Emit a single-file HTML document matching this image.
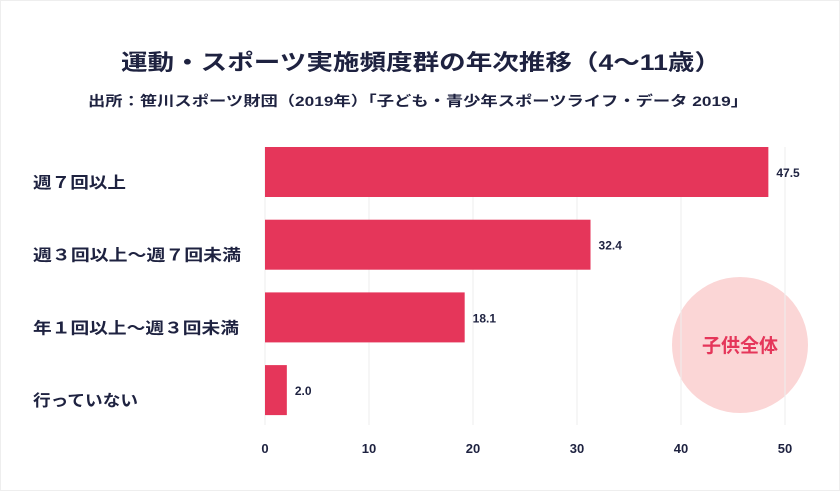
<!DOCTYPE html>
<html><head><meta charset="utf-8"><style>
html,body{margin:0;padding:0;background:#fff}
svg{display:block}
text{font-family:"Liberation Sans","Noto Sans CJK JP",sans-serif;font-weight:bold;fill:#1e2240}
</style></head><body>
<svg id="chart" width="840" height="491" viewBox="0 0 840 491">
<rect x="0.5" y="0.5" width="839" height="490" fill="#fff" stroke="#eeeeee"/>
<text x="421" y="70" font-size="22" text-anchor="middle" textLength="600" lengthAdjust="spacingAndGlyphs">運動・スポーツ実施頻度群の年次推移（4～11歳）</text>
<text x="88" y="106" font-size="14" textLength="660" lengthAdjust="spacingAndGlyphs">出所：笹川スポーツ財団（2019年）「子ども・青少年スポーツライフ・データ 2019」</text>
<circle cx="740" cy="345" r="68" fill="#fbd6d6"/>
<text x="740" y="352" font-size="19" text-anchor="middle" style="fill:#e5365a">子供全体</text>
<g id="grid"></g><g id="bars"></g><g id="labels"></g>
</svg>
<script>
const categories = ["週７回以上","週３回以上～週７回未満","年１回以上～週３回未満","行っていない"];
const values = [48.4, 31.3, 19.2, 2.1];
const valueLabels = ["47.5","32.4","18.1","2.0"];
const ticks = [0,10,20,30,40,50];
const labelWidths = [93, 208, 206, 105];
const ns="http://www.w3.org/2000/svg";
const x0=265, x1=785, xMax=50;
const xs=v=>x0+(x1-x0)*v/xMax;
const yTop=147, pitch=72.7, bh=50;
const ys=i=>yTop+i*pitch;
function mk(t,a){const e=document.createElementNS(ns,t);for(const k in a)e.setAttribute(k,a[k]);return e;}
const grid=document.getElementById('grid'),bars=document.getElementById('bars'),labels=document.getElementById('labels');
ticks.forEach(t=>{
  const l=mk('line',{x1:xs(t),x2:xs(t),y1:147,y2:425,stroke:'#eeeeee','stroke-width':1});
  
  
  grid.appendChild(l);
  const tx=mk('text',{x:xs(t),y:453,'font-size':13,'text-anchor':'middle'});
  tx.textContent=t;
  
  
  labels.appendChild(tx);
});
categories.forEach((c,i)=>{
  const r=mk('rect',{x:x0,y:ys(i),width:xs(values[i])-x0,height:bh,fill:'#e5365a'});
  
  
  bars.appendChild(r);
  const cl=mk('text',{x:33,y:ys(i)+bh/2+16,'font-size':16,textLength:labelWidths[i],lengthAdjust:'spacingAndGlyphs'});
  cl.textContent=c;
  
  
  labels.appendChild(cl);
  const vl=mk('text',{x:xs(values[i])+8,y:ys(i)+bh/2+5,'font-size':12});
  vl.textContent=valueLabels[i];
  
  
  labels.appendChild(vl);
});
</script>
</body></html>
